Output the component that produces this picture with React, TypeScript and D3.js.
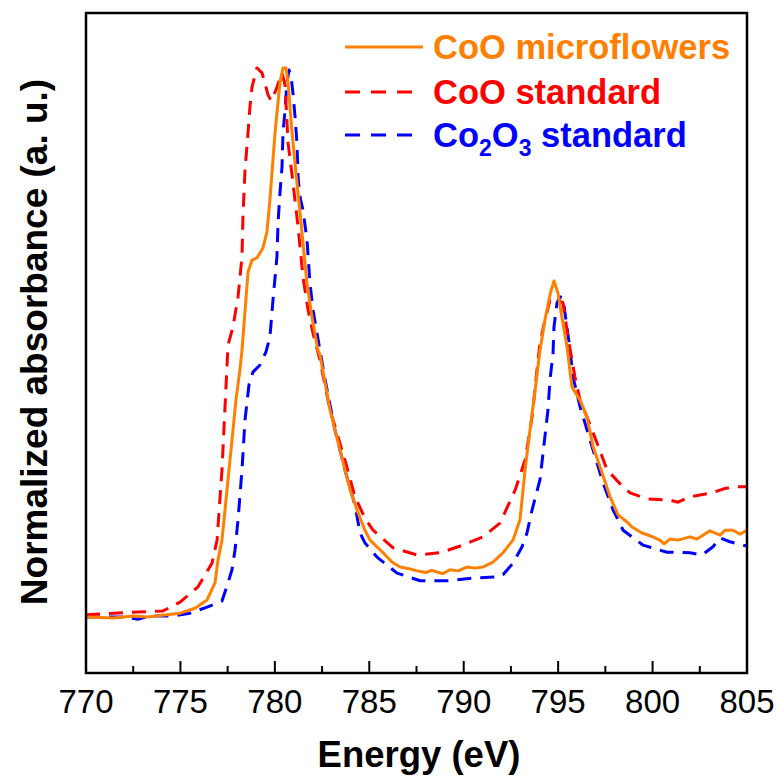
import React from "react";
import * as d3 from "d3";

const microE = [770.0, 771.43, 772.49, 773.23, 774.29, 774.98, 775.77, 776.41, 776.83, 776.99, 777.2, 777.36, 777.52, 777.73, 777.94, 778.15, 778.26, 778.58, 778.79, 779.05, 779.37, 779.58, 779.74, 780.01, 780.27, 780.43, 780.59, 780.7, 780.91, 781.17, 781.44, 781.7, 781.97, 782.28, 782.39, 782.92, 783.45, 783.98, 784.35, 784.77, 785.04, 785.73, 786.2, 786.63, 787.1, 787.53, 788.0, 788.3, 788.59, 788.9, 789.27, 789.7, 790.17, 790.6, 791.02, 791.55, 792.08, 792.61, 792.98, 793.25, 793.51, 793.78, 794.04, 794.3, 794.57, 794.78, 794.99, 795.2, 795.47, 795.73, 796.16, 796.53, 796.85, 797.22, 797.75, 798.17, 798.65, 798.91, 799.44, 799.86, 800.39, 800.61, 800.92, 801.35, 801.98, 802.35, 803.04, 803.57, 803.84, 804.26, 804.63, 805.0];
const microA = [0.0, -0.002, 0.002, 0.0, 0.004, 0.007, 0.016, 0.031, 0.062, 0.104, 0.14, 0.195, 0.25, 0.322, 0.395, 0.45, 0.486, 0.628, 0.65, 0.654, 0.672, 0.701, 0.76, 0.882, 0.973, 1.0, 1.0, 0.973, 0.882, 0.791, 0.699, 0.608, 0.546, 0.486, 0.477, 0.377, 0.304, 0.232, 0.195, 0.158, 0.14, 0.117, 0.1, 0.091, 0.088, 0.084, 0.081, 0.085, 0.082, 0.079, 0.086, 0.084, 0.091, 0.089, 0.091, 0.1, 0.117, 0.14, 0.177, 0.268, 0.341, 0.413, 0.486, 0.541, 0.587, 0.612, 0.59, 0.546, 0.492, 0.419, 0.395, 0.364, 0.31, 0.273, 0.219, 0.186, 0.173, 0.164, 0.153, 0.148, 0.14, 0.133, 0.142, 0.14, 0.146, 0.142, 0.157, 0.149, 0.158, 0.158, 0.151, 0.158];

const coE = [770.0, 772.7, 774.08, 774.98, 775.93, 776.67, 776.94, 777.2, 777.52, 777.78, 778.05, 778.26, 778.31, 778.42, 778.58, 778.68, 778.79, 779.05, 779.32, 779.64, 779.8, 780.06, 780.38, 780.54, 780.7, 780.96, 781.23, 781.49, 781.76, 782.02, 782.39, 782.92, 783.71, 784.24, 784.77, 785.2, 786.26, 787.53, 788.75, 789.97, 791.02, 791.92, 792.72, 793.25, 793.62, 793.88, 794.04, 794.3, 794.57, 794.99, 795.26, 795.52, 795.89, 796.16, 796.53, 797.06, 797.59, 798.43, 798.81, 799.71, 800.92, 801.35, 801.98, 802.51, 803.15, 803.73, 804.26, 805.0];
const coA = [0.004, 0.009, 0.011, 0.027, 0.055, 0.098, 0.14, 0.268, 0.495, 0.528, 0.583, 0.656, 0.729, 0.814, 0.882, 0.929, 0.965, 1.0, 0.991, 0.951, 0.94, 0.96, 0.991, 0.969, 0.863, 0.791, 0.71, 0.619, 0.559, 0.517, 0.468, 0.377, 0.286, 0.219, 0.18, 0.158, 0.126, 0.113, 0.117, 0.131, 0.146, 0.171, 0.231, 0.286, 0.364, 0.45, 0.499, 0.541, 0.577, 0.577, 0.572, 0.51, 0.437, 0.395, 0.364, 0.317, 0.268, 0.237, 0.226, 0.215, 0.213, 0.209, 0.219, 0.222, 0.226, 0.233, 0.237, 0.237];

const co2o3E = [770.0, 771.96, 772.75, 773.39, 774.61, 775.51, 776.41, 777.2, 777.52, 777.73, 777.89, 778.05, 778.26, 778.42, 778.63, 778.84, 779.21, 779.53, 779.74, 779.9, 780.11, 780.17, 780.27, 780.38, 780.43, 780.54, 780.64, 780.75, 780.85, 780.96, 781.07, 781.17, 781.23, 781.33, 781.49, 781.7, 781.86, 782.02, 782.23, 782.66, 783.18, 783.71, 784.24, 784.51, 784.77, 785.41, 786.47, 787.69, 789.12, 790.49, 791.76, 792.08, 792.61, 793.09, 793.35, 793.62, 794.04, 794.46, 794.57, 794.73, 794.78, 794.94, 795.1, 795.26, 795.36, 795.47, 795.63, 795.79, 796.16, 796.85, 797.38, 797.91, 798.44, 799.49, 800.76, 801.98, 802.62, 803.2, 803.57, 804.1, 804.74, 805.0];
const co2o3A = [0.0, 0.0, -0.004, 0.002, 0.002, 0.007, 0.018, 0.029, 0.062, 0.086, 0.122, 0.177, 0.268, 0.359, 0.423, 0.446, 0.459, 0.483, 0.51, 0.577, 0.656, 0.718, 0.772, 0.82, 0.882, 0.923, 0.973, 0.996, 0.987, 0.954, 0.911, 0.863, 0.801, 0.765, 0.741, 0.687, 0.608, 0.559, 0.517, 0.432, 0.341, 0.268, 0.204, 0.153, 0.135, 0.109, 0.08, 0.066, 0.066, 0.071, 0.073, 0.077, 0.098, 0.128, 0.153, 0.195, 0.25, 0.377, 0.432, 0.481, 0.528, 0.572, 0.583, 0.581, 0.554, 0.528, 0.486, 0.437, 0.383, 0.304, 0.244, 0.195, 0.158, 0.131, 0.118, 0.117, 0.113, 0.128, 0.144, 0.137, 0.131, 0.129];

const xMajorTicks = [770, 775, 780, 785, 790, 795, 800, 805];
const xMinorTicks = [772.5, 777.5, 782.5, 787.5, 792.5, 797.5, 802.5];

const W = 778, H = 776;
const left = 86, right = 747, top = 13, bottom = 673;

export default function App() {
  const x = d3.scaleLinear().domain([770, 805]).range([left, right]);
  const y = d3.scaleLinear().domain([-0.102, 1.1]).range([bottom, top]);

  const mk = (E: number[], A: number[]) =>
    d3.line<number>().x((_, i) => x(E[i])).y((_, i) => y(A[i]))(E) || "";

  const font = "Liberation Sans, Arial, sans-serif";
  const series = [
    { E: co2o3E, A: co2o3A, color: "#0000FF", dash: "14,9" },
    { E: coE, A: coA, color: "#FF0000", dash: "14,9" },
    { E: microE, A: microA, color: "#FF8000", dash: undefined },
  ];

  return (
    <svg width={W} height={H} style={{ position: "absolute", left: 0, top: 0, background: "#fff" }} fontFamily={font}>
      <defs>
        <clipPath id="plotclip">
          <rect x={left} y={top} width={right - left} height={bottom - top} />
        </clipPath>
      </defs>
      <g clipPath="url(#plotclip)">
        {series.map((s, i) => (
          <path key={i} d={mk(s.E, s.A)} fill="none" stroke={s.color} strokeWidth={3} strokeDasharray={s.dash} strokeLinejoin="round" />
        ))}
      </g>
      <rect x={left} y={top} width={right - left} height={bottom - top} fill="none" stroke="#000" strokeWidth={2.5} />
      {xMajorTicks.map((t) => (
        <g key={t}>
          <line x1={x(t)} x2={x(t)} y1={bottom} y2={bottom - 12} stroke="#000" strokeWidth={2} />
          <text x={x(t)} y={713} fontSize={33} textAnchor="middle" fill="#000">{t}</text>
        </g>
      ))}
      {xMinorTicks.map((t) => (
        <line key={t} x1={x(t)} x2={x(t)} y1={bottom} y2={bottom - 7} stroke="#000" strokeWidth={2} />
      ))}
      <text x={419} y={767} fontSize={36.5} fontWeight="bold" textAnchor="middle" fill="#000">Energy (eV)</text>
      <text transform={`translate(47,342) rotate(-90)`} fontSize={37} fontWeight="bold" textAnchor="middle" fill="#000">Normalized absorbance (a. u.)</text>

      <g fontSize={34.5} fontWeight="bold">
        <line x1={345} x2={423} y1={47} y2={47} stroke="#FF8000" strokeWidth={3} />
        <text x={433} y={59} fill="#FF8000">CoO microflowers</text>
        <line x1={345} x2={423} y1={92} y2={92} stroke="#FF0000" strokeWidth={3} strokeDasharray="15,11" />
        <text x={433} y={104} fill="#FF0000">CoO standard</text>
        <line x1={345} x2={423} y1={135} y2={135} stroke="#0000FF" strokeWidth={3} strokeDasharray="15,11" />
        <text x={433} y={147} fill="#0000FF">
          Co<tspan fontSize={23} dy={9}>2</tspan><tspan dy={-9}>O</tspan><tspan fontSize={23} dy={9}>3</tspan><tspan dy={-9}> standard</tspan>
        </text>
      </g>
    </svg>
  );
}
